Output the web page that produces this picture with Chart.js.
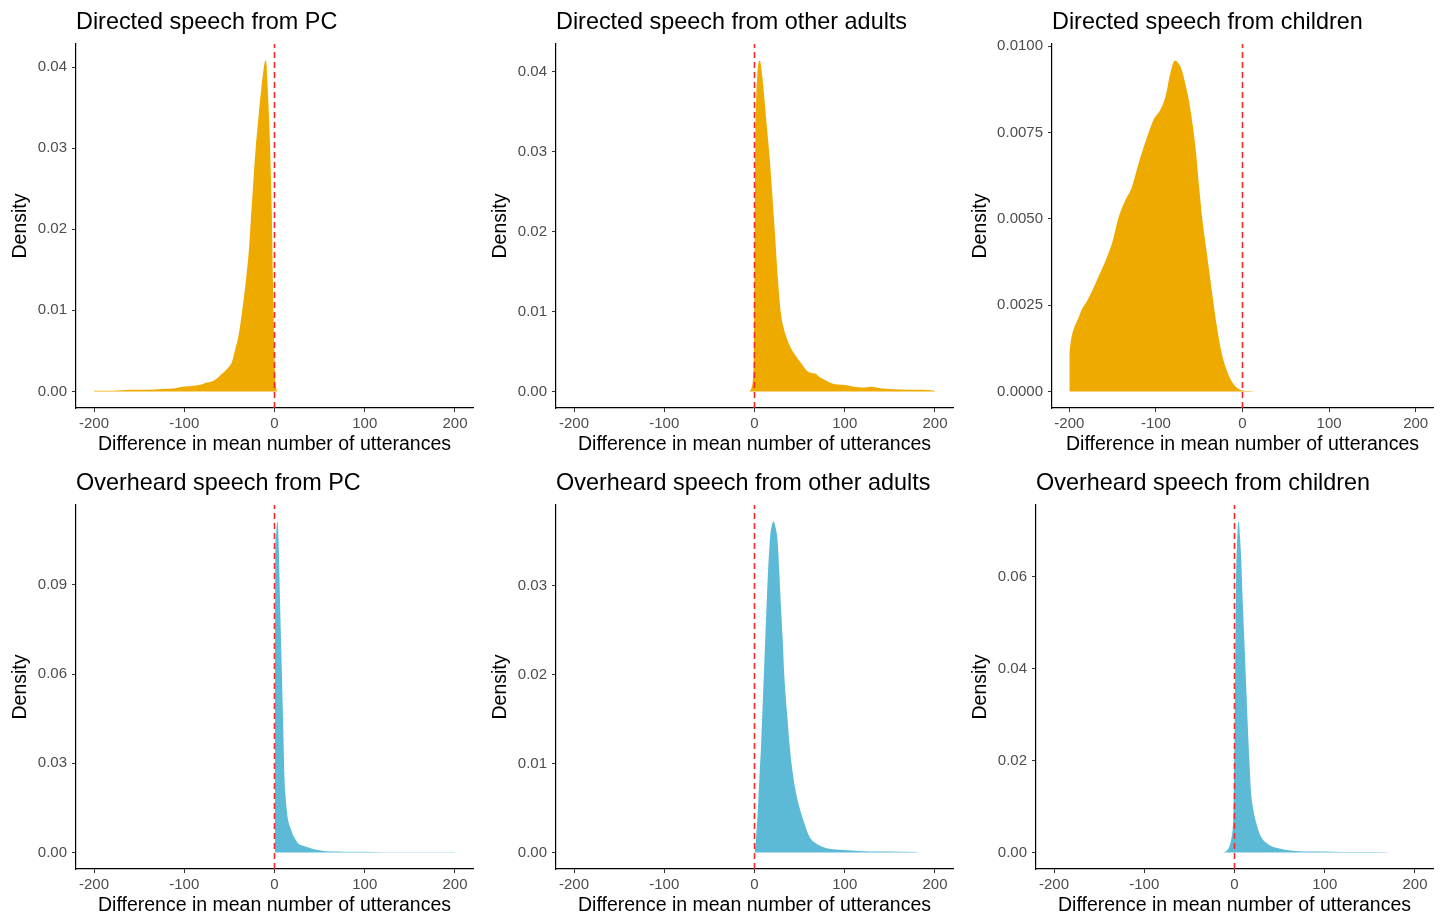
<!DOCTYPE html>
<html>
<head>
<meta charset="utf-8">
<title>Difference in mean number of utterances</title>
<script src="https://cdn.jsdelivr.net/npm/chart.js@4.4.1/dist/chart.umd.min.js"></script>
<style>
    html, body { margin: 0; padding: 0; background: #ffffff; overflow: hidden; }
    #wrap { position: relative; width: 1444px; height: 915px; }
    #wrap canvas { position: absolute; }
</style>
</head>
<body>
<div id="wrap">
    <canvas id="pcDirected" width="480" height="460" style="left:0px;top:0px"></canvas>
    <canvas id="adultsDirected" width="480" height="460" style="left:480px;top:0px"></canvas>
    <canvas id="childrenDirected" width="484" height="460" style="left:960px;top:0px"></canvas>
    <canvas id="pcOverheard" width="480" height="460" style="left:0px;top:461px"></canvas>
    <canvas id="adultsOverheard" width="480" height="460" style="left:480px;top:461px"></canvas>
    <canvas id="childrenOverheard" width="484" height="460" style="left:960px;top:461px"></canvas>
</div>
<script>
/**
 * Posterior densities: difference in mean number of utterances
 * six panels, directed (orange) / overheard (blue) speech
 */

// x axis (shared)
const X_TICKS = [-200, -100, 0, 100, 200];
const X_MIN = -220;
const X_MAX = 220;
const REF_LINE_X = 0;

// Directed speech from PC
const X_PC_DIRECTED = [-200, -180, -160, -140, -125, -110, -100, -90, -80, -75, -70, -65, -60, -55, -50, -47, -44, -40, -36, -32, -28, -26, -24, -21, -18, -15, -14, -12, -10, -9, -8, -7, -6, -5, -4, -3, -2, -1, 0, 1, 2, 3];
const DENSITY_PC_DIRECTED = [0.0001, 0.0001, 0.0002, 0.0002, 0.0003, 0.0004, 0.0006, 0.0007, 0.0009, 0.0011, 0.0012, 0.0015, 0.0020, 0.0025, 0.0031, 0.0037, 0.0050, 0.0068, 0.0098, 0.0134, 0.0180, 0.0216, 0.0250, 0.0298, 0.0335, 0.0370, 0.0380, 0.0398, 0.0408, 0.0405, 0.0385, 0.0362, 0.0335, 0.0305, 0.0265, 0.0220, 0.0150, 0.0095, 0.0040, 0.0012, 0.0003, 0];
const Y_TICKS_PC_DIRECTED = [0, 0.01, 0.02, 0.03, 0.04];

// Directed speech from other adults
const X_ADULTS_DIRECTED = [-6, -4, -3, -2, -1, -0.5, 0, 0.5, 1, 2, 3, 4, 5, 6, 7, 8, 9, 11, 13, 15, 17, 19, 21, 23, 26, 29, 32, 35, 40, 46, 52, 59, 64, 68, 72, 77, 84, 90, 100, 110, 120, 130, 140, 150, 170, 185, 200];
const DENSITY_ADULTS_DIRECTED = [0, 0.0002, 0.0006, 0.0012, 0.0035, 0.0075, 0.0160, 0.0250, 0.0320, 0.0370, 0.0395, 0.0408, 0.0413, 0.0414, 0.0409, 0.0400, 0.0390, 0.0366, 0.0340, 0.0315, 0.0290, 0.0258, 0.0225, 0.0192, 0.0140, 0.0100, 0.0081, 0.0069, 0.0055, 0.0044, 0.0035, 0.0025, 0.0023, 0.0022, 0.0018, 0.0015, 0.0011, 0.0009, 0.0008, 0.0006, 0.0005, 0.0006, 0.0004, 0.0003, 0.0002, 0.0002, 0.0001];
const Y_TICKS_ADULTS_DIRECTED = [0, 0.01, 0.02, 0.03, 0.04];

// Directed speech from children
const X_CHILDREN_DIRECTED = [-200, -198, -195, -190, -185, -180, -172, -165, -158, -150, -143, -135, -128, -120, -110, -102, -95, -89, -83, -78, -74, -70, -66, -62, -58, -54, -50, -46, -42, -38, -34, -30, -26, -22, -18, -14, -10, -6, -2, 2, 8, 15];
const DENSITY_CHILDREN_DIRECTED = [0.00112, 0.00150, 0.00180, 0.00210, 0.00240, 0.00260, 0.00300, 0.00340, 0.00380, 0.00435, 0.00505, 0.00555, 0.00590, 0.00660, 0.00738, 0.00790, 0.00815, 0.00853, 0.00925, 0.00958, 0.00950, 0.00930, 0.00890, 0.00844, 0.00780, 0.00700, 0.00590, 0.00490, 0.00415, 0.00340, 0.00265, 0.00195, 0.00135, 0.00090, 0.00060, 0.00036, 0.00020, 0.00010, 0.00004, 0.00002, 0.00001, 0];
const Y_TICKS_CHILDREN_DIRECTED = [0, 0.0025, 0.005, 0.0075, 0.01];

// Overheard speech from PC
const X_PC_OVERHEARD = [0.4, 0.8, 1.5, 2.5, 3.6, 4.5, 5.5, 6.5, 7.3, 8.3, 9.2, 10, 11, 12, 13.5, 15, 16.5, 18.3, 20, 22, 25.6, 30, 35, 38.5, 45, 56.8, 70, 85, 100, 120, 140, 160, 180, 200];
const DENSITY_PC_OVERHEARD = [0, 0.098, 0.106, 0.110, 0.1113, 0.105, 0.0928, 0.080, 0.0704, 0.059, 0.048, 0.038, 0.0256, 0.020, 0.0144, 0.011, 0.0092, 0.0077, 0.0062, 0.0050, 0.0033, 0.0024, 0.0019, 0.0016, 0.0010, 0.0004, 0.0003, 0.0002, 0.0002, 0.0001, 0.0001, 0.0001, 0.00005, 0.00005];
const Y_TICKS_PC_OVERHEARD = [0, 0.03, 0.06, 0.09];

// Overheard speech from other adults
const X_ADULTS_OVERHEARD = [0, 0.7, 2, 3.7, 5.5, 7.4, 9, 11, 13, 14.7, 16, 17.3, 19, 21, 23, 25.8, 27.5, 29.5, 31.5, 33.1, 36, 38.7, 42, 46, 50, 55.2, 59, 62.6, 70, 79, 94, 112, 130, 150, 180];
const DENSITY_ADULTS_OVERHEARD = [0, 0.0005, 0.0020, 0.0048, 0.0085, 0.0123, 0.0165, 0.0217, 0.0268, 0.0310, 0.0335, 0.0355, 0.0367, 0.0372, 0.0367, 0.0348, 0.0315, 0.0273, 0.0235, 0.0198, 0.0158, 0.0123, 0.0092, 0.0067, 0.0050, 0.0033, 0.0022, 0.0015, 0.0009, 0.0005, 0.0003, 0.0002, 0.0001, 0.0001, 0.00005];
const Y_TICKS_ADULTS_OVERHEARD = [0, 0.01, 0.02, 0.03];

// Overheard speech from children
const X_CHILDREN_OVERHEARD = [-13, -9, -5.5, -3, -1.8, -1, 0, 0.8, 1.8, 2.8, 3.7, 4.8, 6, 7.4, 9, 11, 13, 14.7, 16.5, 18.4, 21, 24, 27, 31.3, 38, 46, 56, 68, 85, 100, 120, 140, 170];
const DENSITY_CHILDREN_OVERHEARD = [0, 0.0003, 0.0014, 0.0035, 0.0057, 0.0100, 0.0240, 0.0400, 0.0600, 0.0670, 0.0710, 0.0720, 0.0690, 0.0639, 0.0555, 0.0458, 0.0360, 0.0276, 0.0200, 0.0130, 0.0092, 0.0065, 0.0045, 0.0028, 0.0017, 0.0010, 0.0006, 0.0003, 0.0002, 0.0002, 0.0001, 0.0001, 0.00005];
const Y_TICKS_CHILDREN_OVERHEARD = [0, 0.02, 0.04, 0.06];

// colours / fonts
const PALETTE = {
    directed: '#EFAA00',
    overheard: '#5CBAD6',
    refLine: '#F02B2B',
    axis: '#000000',
    tick: '#333333',
    tickLabel: '#4D4D4D',
    text: '#000000'
};
const FONT_FAMILY = "'Liberation Sans', Arial, Helvetica, sans-serif";

// panel table
const PANELS = [
    { id: 'pcDirected', title: 'Directed speech from PC', xs: X_PC_DIRECTED, ys: DENSITY_PC_DIRECTED, yTicks: Y_TICKS_PC_DIRECTED, decimals: 2, color: PALETTE.directed, axisWidth: 76 },
    { id: 'adultsDirected', title: 'Directed speech from other adults', xs: X_ADULTS_DIRECTED, ys: DENSITY_ADULTS_DIRECTED, yTicks: Y_TICKS_ADULTS_DIRECTED, decimals: 2, color: PALETTE.directed, axisWidth: 76 },
    { id: 'childrenDirected', title: 'Directed speech from children', xs: X_CHILDREN_DIRECTED, ys: DENSITY_CHILDREN_DIRECTED, yTicks: Y_TICKS_CHILDREN_DIRECTED, decimals: 4, color: PALETTE.directed, axisWidth: 92 },
    { id: 'pcOverheard', title: 'Overheard speech from PC', xs: X_PC_OVERHEARD, ys: DENSITY_PC_OVERHEARD, yTicks: Y_TICKS_PC_OVERHEARD, decimals: 2, color: PALETTE.overheard, axisWidth: 76 },
    { id: 'adultsOverheard', title: 'Overheard speech from other adults', xs: X_ADULTS_OVERHEARD, ys: DENSITY_ADULTS_OVERHEARD, yTicks: Y_TICKS_ADULTS_OVERHEARD, decimals: 2, color: PALETTE.overheard, axisWidth: 76 },
    { id: 'childrenOverheard', title: 'Overheard speech from children', xs: X_CHILDREN_OVERHEARD, ys: DENSITY_CHILDREN_OVERHEARD, yTicks: Y_TICKS_CHILDREN_OVERHEARD, decimals: 2, color: PALETTE.overheard, axisWidth: 76 }
];

/**
 * Build one density panel
 * @param {Object} panel - entry of PANELS
 */
function initializePanel(panel) {
    const canvas = document.getElementById(panel.id);
    if (!canvas) return;

    // ggplot-like 5% expansion of the y range
    const peak = Math.max(...panel.ys);
    const yMin = -0.05 * peak;
    const yMax = 1.05 * peak;
    const rightPad = canvas.width - 473;

    new Chart(canvas, {
        type: 'line',
        data: {
            datasets: [
                {
                    label: 'ref',
                    data: [{ x: REF_LINE_X, y: yMin }, { x: REF_LINE_X, y: yMax }],
                    borderColor: PALETTE.refLine,
                    borderWidth: 1.6,
                    borderDash: [6, 4],
                    pointRadius: 0,
                    fill: false,
                    order: 0
                },
                {
                    label: panel.title,
                    data: panel.xs.map((x, i) => ({ x: x, y: panel.ys[i] })),
                    backgroundColor: panel.color,
                    borderColor: panel.color,
                    borderWidth: 0,
                    pointRadius: 0,
                    fill: 'origin',
                    cubicInterpolationMode: 'monotone',
                    order: 1
                }
            ]
        },
        options: {
            responsive: false,
            animation: false,
            layout: { padding: { left: 0, right: rightPad, top: 0, bottom: 0 } },
            plugins: {
                legend: { display: false },
                tooltip: { enabled: false },
                title: {
                    display: true,
                    text: panel.title,
                    align: 'start',
                    fullSize: false,
                    color: PALETTE.text,
                    font: { family: FONT_FAMILY, size: 23.4, weight: 'normal', lineHeight: 1.2 },
                    padding: { top: 9, bottom: 6.9 }
                }
            },
            scales: {
                x: {
                    type: 'linear',
                    min: X_MIN,
                    max: X_MAX,
                    afterBuildTicks: s => { s.ticks = X_TICKS.map(v => ({ value: v })); },
                    afterFit: s => { s.height = 52; },
                    ticks: {
                        autoSkip: false,
                        maxRotation: 0,
                        padding: 3,
                        color: PALETTE.tickLabel,
                        font: { family: FONT_FAMILY, size: 15 },
                        callback: v => String(v)
                    },
                    grid: { drawOnChartArea: false, drawTicks: true, tickLength: 4, color: PALETTE.tick, lineWidth: 1 },
                    border: { display: true, color: PALETTE.axis, width: 1.2 },
                    title: {
                        display: true,
                        text: 'Difference in mean number of utterances',
                        color: PALETTE.text,
                        font: { family: FONT_FAMILY, size: 19.5, lineHeight: 1 },
                        padding: { top: 0, bottom: 6 }
                    }
                },
                y: {
                    type: 'linear',
                    min: yMin,
                    max: yMax,
                    afterBuildTicks: s => { s.ticks = panel.yTicks.map(v => ({ value: v })); },
                    afterFit: s => { s.width = panel.axisWidth; },
                    ticks: {
                        autoSkip: false,
                        padding: 5,
                        color: PALETTE.tickLabel,
                        font: { family: FONT_FAMILY, size: 15 },
                        callback: v => Number(v).toFixed(panel.decimals)
                    },
                    grid: { drawOnChartArea: false, drawTicks: true, tickLength: 4, color: PALETTE.tick, lineWidth: 1 },
                    border: { display: true, color: PALETTE.axis, width: 1.2 },
                    title: {
                        display: true,
                        text: 'Density',
                        color: PALETTE.text,
                        font: { family: FONT_FAMILY, size: 19.5, lineHeight: 1 },
                        padding: { top: 11, bottom: 0 }
                    }
                }
            }
        }
    });
}

window.onload = function() {
    PANELS.forEach(initializePanel);
};
</script>
</body>
</html>
